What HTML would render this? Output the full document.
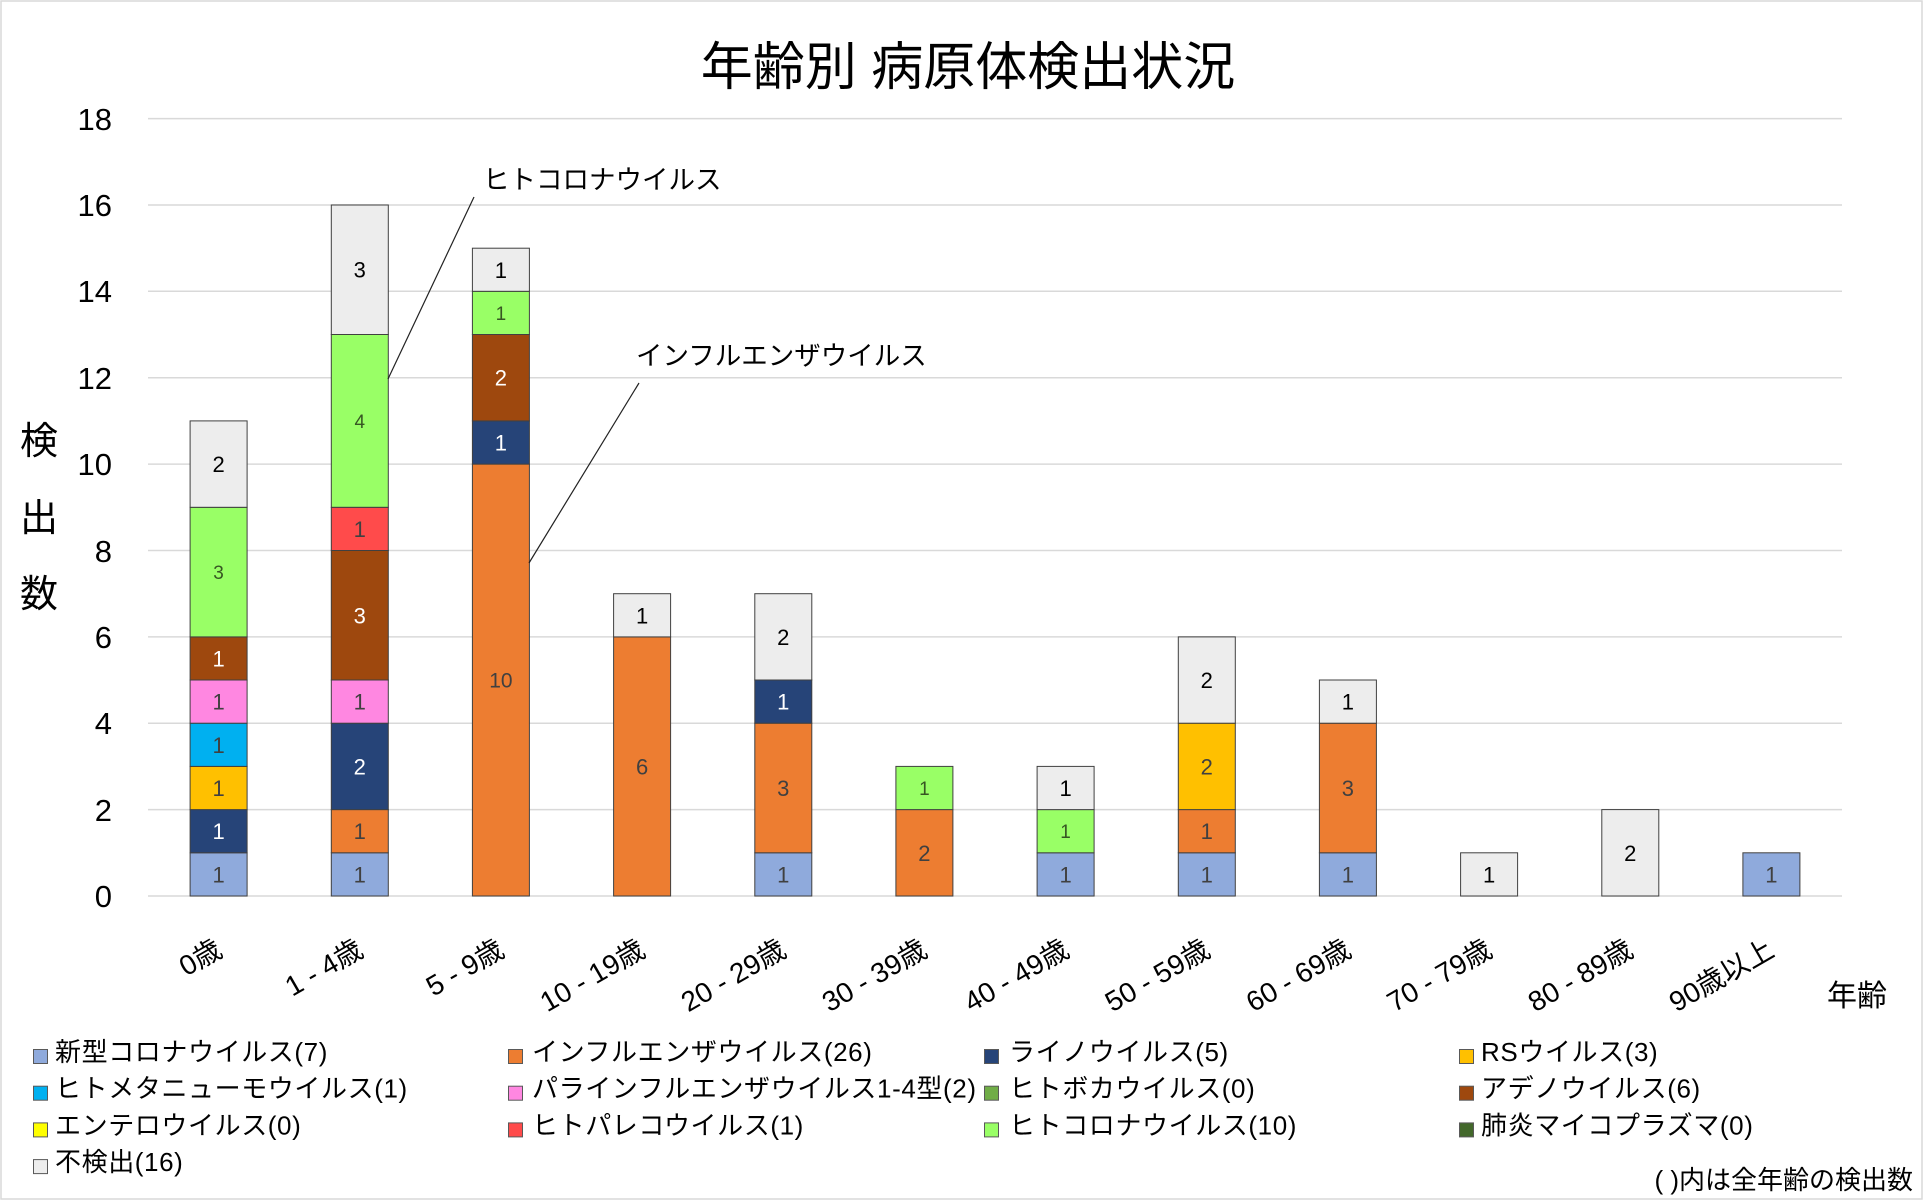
<!DOCTYPE html>
<html><head><meta charset="utf-8"><style>
html,body{margin:0;padding:0;background:#fff;}
svg{display:block;}
text{font-family:"Liberation Sans","Noto Sans CJK JP",sans-serif;}
</style></head><body>
<svg width="1925" height="1202" viewBox="0 0 1925 1202" xmlns="http://www.w3.org/2000/svg">
<rect x="0" y="0" width="1925" height="1202" fill="#fff"/>
<rect x="1" y="1" width="1921" height="1198" fill="none" stroke="#D9D9D9" stroke-width="1.5"/>
<text x="968" y="85" font-size="52" text-anchor="middle" fill="#000">年齢別 病原体検出状況</text>
<g stroke="#D9D9D9" stroke-width="1.5">
<line x1="148" y1="118.6" x2="1842" y2="118.6"/><line x1="148" y1="205.0" x2="1842" y2="205.0"/><line x1="148" y1="291.3" x2="1842" y2="291.3"/><line x1="148" y1="377.7" x2="1842" y2="377.7"/><line x1="148" y1="464.1" x2="1842" y2="464.1"/><line x1="148" y1="550.5" x2="1842" y2="550.5"/><line x1="148" y1="636.9" x2="1842" y2="636.9"/><line x1="148" y1="723.2" x2="1842" y2="723.2"/><line x1="148" y1="809.6" x2="1842" y2="809.6"/><line x1="148" y1="896" x2="1842" y2="896"/>
</g>
<g font-size="31" text-anchor="end" fill="#000">
<text x="112" y="130">18</text><text x="112" y="216">16</text><text x="112" y="302">14</text><text x="112" y="389">12</text><text x="112" y="475">10</text><text x="112" y="562">8</text><text x="112" y="648">6</text><text x="112" y="734">4</text><text x="112" y="821">2</text><text x="112" y="907">0</text>
</g>
<g font-size="38" text-anchor="middle" fill="#000">
<text x="39" y="454">検</text><text x="39" y="531">出</text><text x="39" y="607">数</text>
</g>
<g stroke="#404040" stroke-width="1">
<rect x="190.1" y="852.8" width="57" height="43.2" fill="#8FAADC"/>
<rect x="190.1" y="809.6" width="57" height="43.2" fill="#264478"/>
<rect x="190.1" y="766.4" width="57" height="43.2" fill="#FFC000"/>
<rect x="190.1" y="723.2" width="57" height="43.2" fill="#00B0F0"/>
<rect x="190.1" y="680.0" width="57" height="43.2" fill="#FF87E1"/>
<rect x="190.1" y="636.9" width="57" height="43.1" fill="#9E480E"/>
<rect x="190.1" y="507.3" width="57" height="129.6" fill="#99FF66"/>
<rect x="190.1" y="420.9" width="57" height="86.4" fill="#EDEDED"/>
<rect x="331.3" y="852.8" width="57" height="43.2" fill="#8FAADC"/>
<rect x="331.3" y="809.6" width="57" height="43.2" fill="#ED7D31"/>
<rect x="331.3" y="723.2" width="57" height="86.4" fill="#264478"/>
<rect x="331.3" y="680.0" width="57" height="43.2" fill="#FF87E1"/>
<rect x="331.3" y="550.5" width="57" height="129.5" fill="#9E480E"/>
<rect x="331.3" y="507.3" width="57" height="43.2" fill="#FF4B4B"/>
<rect x="331.3" y="334.5" width="57" height="172.8" fill="#99FF66"/>
<rect x="331.3" y="205.0" width="57" height="129.5" fill="#EDEDED"/>
<rect x="472.4" y="464.1" width="57" height="431.9" fill="#ED7D31"/>
<rect x="472.4" y="420.9" width="57" height="43.2" fill="#264478"/>
<rect x="472.4" y="334.5" width="57" height="86.4" fill="#9E480E"/>
<rect x="472.4" y="291.3" width="57" height="43.2" fill="#99FF66"/>
<rect x="472.4" y="248.2" width="57" height="43.1" fill="#EDEDED"/>
<rect x="613.6" y="636.9" width="57" height="259.1" fill="#ED7D31"/>
<rect x="613.6" y="593.7" width="57" height="43.2" fill="#EDEDED"/>
<rect x="754.8" y="852.8" width="57" height="43.2" fill="#8FAADC"/>
<rect x="754.8" y="723.2" width="57" height="129.6" fill="#ED7D31"/>
<rect x="754.8" y="680.0" width="57" height="43.2" fill="#264478"/>
<rect x="754.8" y="593.7" width="57" height="86.3" fill="#EDEDED"/>
<rect x="895.9" y="809.6" width="57" height="86.4" fill="#ED7D31"/>
<rect x="895.9" y="766.4" width="57" height="43.2" fill="#99FF66"/>
<rect x="1037.1" y="852.8" width="57" height="43.2" fill="#8FAADC"/>
<rect x="1037.1" y="809.6" width="57" height="43.2" fill="#99FF66"/>
<rect x="1037.1" y="766.4" width="57" height="43.2" fill="#EDEDED"/>
<rect x="1178.3" y="852.8" width="57" height="43.2" fill="#8FAADC"/>
<rect x="1178.3" y="809.6" width="57" height="43.2" fill="#ED7D31"/>
<rect x="1178.3" y="723.2" width="57" height="86.4" fill="#FFC000"/>
<rect x="1178.3" y="636.9" width="57" height="86.3" fill="#EDEDED"/>
<rect x="1319.4" y="852.8" width="57" height="43.2" fill="#8FAADC"/>
<rect x="1319.4" y="723.2" width="57" height="129.6" fill="#ED7D31"/>
<rect x="1319.4" y="680.0" width="57" height="43.2" fill="#EDEDED"/>
<rect x="1460.6" y="852.8" width="57" height="43.2" fill="#EDEDED"/>
<rect x="1601.8" y="809.6" width="57" height="86.4" fill="#EDEDED"/>
<rect x="1742.9" y="852.8" width="57" height="43.2" fill="#8FAADC"/>
</g>
<g font-size="22" text-anchor="middle">
<text x="218.6" y="882.4" fill="#404040">1</text>
<text x="218.6" y="839.2" fill="#fff">1</text>
<text x="218.6" y="796" fill="#404040">1</text>
<text x="218.6" y="752.8" fill="#404040">1</text>
<text x="218.6" y="709.6" fill="#404040">1</text>
<text x="218.6" y="666.5" fill="#fff">1</text>
<text x="218.6" y="579" fill="#375623" font-size="19">3</text>
<text x="218.6" y="472.1" fill="#000">2</text>
<text x="359.8" y="882.4" fill="#404040">1</text>
<text x="359.8" y="839.2" fill="#404040">1</text>
<text x="359.8" y="774.4" fill="#fff">2</text>
<text x="359.8" y="709.6" fill="#404040">1</text>
<text x="359.8" y="623.3" fill="#fff">3</text>
<text x="359.8" y="536.9" fill="#404040">1</text>
<text x="359.8" y="427.8" fill="#375623" font-size="19">4</text>
<text x="359.8" y="277.7" fill="#000">3</text>
<text x="500.9" y="687.5" fill="#404040" font-size="21">10</text>
<text x="500.9" y="450.5" fill="#fff">1</text>
<text x="500.9" y="385.7" fill="#fff">2</text>
<text x="500.9" y="319.8" fill="#375623" font-size="19">1</text>
<text x="500.9" y="277.8" fill="#000">1</text>
<text x="642.1" y="774.4" fill="#404040">6</text>
<text x="642.1" y="623.3" fill="#000">1</text>
<text x="783.3" y="882.4" fill="#404040">1</text>
<text x="783.3" y="796" fill="#404040">3</text>
<text x="783.3" y="709.6" fill="#fff">1</text>
<text x="783.3" y="644.9" fill="#000">2</text>
<text x="924.4" y="860.8" fill="#404040">2</text>
<text x="924.4" y="794.9" fill="#375623" font-size="19">1</text>
<text x="1065.6" y="882.4" fill="#404040">1</text>
<text x="1065.6" y="838.1" fill="#375623" font-size="19">1</text>
<text x="1065.6" y="796" fill="#000">1</text>
<text x="1206.8" y="882.4" fill="#404040">1</text>
<text x="1206.8" y="839.2" fill="#404040">1</text>
<text x="1206.8" y="774.4" fill="#404040">2</text>
<text x="1206.8" y="688" fill="#000">2</text>
<text x="1347.9" y="882.4" fill="#404040">1</text>
<text x="1347.9" y="796" fill="#404040">3</text>
<text x="1347.9" y="709.6" fill="#000">1</text>
<text x="1489.1" y="882.4" fill="#000">1</text>
<text x="1630.3" y="860.8" fill="#000">2</text>
<text x="1771.4" y="882.4" fill="#404040">1</text>
</g>
<g font-size="28" text-anchor="end" fill="#000">
<text transform="translate(224,955) rotate(-30)">0歳</text>
<text transform="translate(365,955) rotate(-30)">1 - 4歳</text>
<text transform="translate(506,955) rotate(-30)">5 - 9歳</text>
<text transform="translate(647,955) rotate(-30)">10 - 19歳</text>
<text transform="translate(788,955) rotate(-30)">20 - 29歳</text>
<text transform="translate(929,955) rotate(-30)">30 - 39歳</text>
<text transform="translate(1071,955) rotate(-30)">40 - 49歳</text>
<text transform="translate(1212,955) rotate(-30)">50 - 59歳</text>
<text transform="translate(1353,955) rotate(-30)">60 - 69歳</text>
<text transform="translate(1494,955) rotate(-30)">70 - 79歳</text>
<text transform="translate(1635,955) rotate(-30)">80 - 89歳</text>
<text transform="translate(1776,955) rotate(-30)">90歳以上</text>
</g>
<text x="1857" y="1006" font-size="30" text-anchor="middle" fill="#000">年齢</text>
<g stroke="#222" stroke-width="1.2">
<line x1="474" y1="197" x2="388" y2="379"/>
<line x1="639" y1="383" x2="529" y2="563"/>
</g>
<text x="483" y="189" font-size="26.5" fill="#000">ヒトコロナウイルス</text>
<text x="636" y="365" font-size="26.5" fill="#000">インフルエンザウイルス</text>
<g stroke="#595959" stroke-width="1">
<rect x="33.5" y="1049.5" width="14" height="14" fill="#8FAADC"/>
<rect x="508.5" y="1049.5" width="14" height="14" fill="#ED7D31"/>
<rect x="984.5" y="1049.5" width="14" height="14" fill="#264478"/>
<rect x="1459.5" y="1049.5" width="14" height="14" fill="#FFC000"/>
<rect x="33.5" y="1086.2" width="14" height="14" fill="#00B0F0"/>
<rect x="508.5" y="1086.2" width="14" height="14" fill="#FF87E1"/>
<rect x="984.5" y="1086.2" width="14" height="14" fill="#70AD47"/>
<rect x="1459.5" y="1086.2" width="14" height="14" fill="#9E480E"/>
<rect x="33.5" y="1122.9" width="14" height="14" fill="#FFFF00"/>
<rect x="508.5" y="1122.9" width="14" height="14" fill="#FF4B4B"/>
<rect x="984.5" y="1122.9" width="14" height="14" fill="#99FF66"/>
<rect x="1459.5" y="1122.9" width="14" height="14" fill="#43682B"/>
<rect x="33.5" y="1159.6" width="14" height="14" fill="#EDEDED"/>
</g>
<g font-size="26" fill="#000" letter-spacing="0.6">
<text x="55" y="1061">新型コロナウイルス(7)</text>
<text x="532" y="1061">インフルエンザウイルス(26)</text>
<text x="1009" y="1061">ライノウイルス(5)</text>
<text x="1481" y="1061">RSウイルス(3)</text>
<text x="55" y="1097.7">ヒトメタニューモウイルス(1)</text>
<text x="532" y="1097.7">パラインフルエンザウイルス1-4型(2)</text>
<text x="1009" y="1097.7">ヒトボカウイルス(0)</text>
<text x="1481" y="1097.7">アデノウイルス(6)</text>
<text x="55" y="1134.4">エンテロウイルス(0)</text>
<text x="532" y="1134.4">ヒトパレコウイルス(1)</text>
<text x="1009" y="1134.4">ヒトコロナウイルス(10)</text>
<text x="1481" y="1134.4">肺炎マイコプラズマ(0)</text>
<text x="55" y="1171.1">不検出(16)</text>
</g>
<text x="1913" y="1189" font-size="26" text-anchor="end" fill="#000">( )内は全年齢の検出数</text>
</svg>
</body></html>
